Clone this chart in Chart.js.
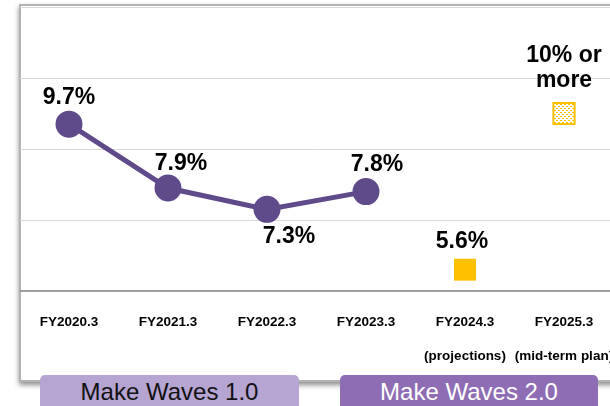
<!DOCTYPE html>
<html>
<head>
    <title>Operating margin</title>
    <script src="https://cdn.jsdelivr.net/npm/chart.js"></script>
    <style>
        html, body {
            margin: 0;
            padding: 0;
            width: 610px;
            height: 406px;
            overflow: hidden;
            background: #fff;
            font-family: Arial, "Liberation Sans", sans-serif;
        }
        #panel {
            position: absolute;
            left: 19px;
            top: 4px;
            width: 620px;
            height: 378px;
            box-sizing: border-box;
            border: 2px solid #b3b3b3;
            background: #fff;
            box-shadow: 0 3px 5px rgba(0, 0, 0, 0.45);
        }
        #wrap {
            position: absolute;
            left: 0;
            top: 0;
            width: 620px;
            height: 380px;
        }
        .phase {
            position: absolute;
            top: 375px;
            height: 40px;
            border-radius: 5px;
            font-size: 24px;
            line-height: 34px;
            text-align: center;
        }
        #phase1 { left: 40px; width: 259px; background: #b6a5d3; color: #111; }
        #phase2 { left: 340px; width: 258px; background: #8e6db4; color: #fff; }
    </style>
</head>
<body>
    <div id="panel"></div>
    <div id="wrap"><canvas id="figure" width="620" height="380"></canvas></div>
    <div class="phase" id="phase1">Make Waves 1.0</div>
    <div class="phase" id="phase2">Make Waves 2.0</div>

    <script>
        var categories = [
            ['FY2020.3'], ['FY2021.3'], ['FY2022.3'], ['FY2023.3'],
            ['FY2024.3', '(projections)'], ['FY2025.3', '(mid-term plan)']
        ];
        var results = [9.7, 7.9, 7.3, 7.8, null, null];
        var projection = [null, null, null, null, 5.6, null];
        var target = [null, null, null, null, null, 10];
        var targetText = ['10% or', 'more'];

        // dotted fill for the mid-term plan marker
        var tile = document.createElement('canvas');
        tile.width = 4;
        tile.height = 4;
        var tctx = tile.getContext('2d');
        tctx.fillStyle = '#ffffff';
        tctx.fillRect(0, 0, 4, 4);
        tctx.fillStyle = '#ffc000';
        tctx.fillRect(0, 0, 2, 1);
        tctx.fillRect(2, 2, 2, 1);
        var ctx = document.getElementById('figure').getContext('2d');
        var dotted = ctx.createPattern(tile, 'repeat');

        var valueLabels = {
            id: 'valueLabels',
            afterDatasetsDraw: function (chart, args, opts) {
                var c = chart.ctx;
                c.save();
                c.font = 'bold 23px Arial, "Liberation Sans", sans-serif';
                c.fillStyle = '#000';
                c.textAlign = 'center';
                c.textBaseline = 'middle';
                chart.data.datasets.forEach(function (ds, di) {
                    var meta = chart.getDatasetMeta(di);
                    ds.data.forEach(function (v, i) {
                        if (v === null) return;
                        var pt = meta.data[i];
                        var dx = opts.dx[i];
                        var dy = opts.dy[i];
                        if (di === 2) {
                            c.fillText(targetText[0], pt.x + dx, pt.y - 58);
                            c.fillText(targetText[1], pt.x + dx, pt.y - 33);
                        } else {
                            c.fillText(v.toFixed(1) + '%', pt.x + dx, pt.y + dy);
                        }
                    });
                });
                c.restore();
            }
        };

        new Chart(ctx, {
            type: 'line',
            data: {
                labels: categories,
                datasets: [{
                    data: results,
                    borderColor: '#5f4a8a',
                    backgroundColor: '#5f4a8a',
                    borderWidth: 5,
                    pointRadius: 11,
                    pointHoverRadius: 11,
                    spanGaps: false
                }, {
                    data: projection,
                    pointStyle: 'rect',
                    pointRadius: 15.5,
                    pointBorderWidth: 0,
                    borderColor: '#ffc000',
                    backgroundColor: '#ffc000',
                    showLine: false
                }, {
                    data: target,
                    pointStyle: 'rect',
                    pointRadius: 15,
                    pointBorderWidth: 2,
                    borderColor: '#ffc000',
                    backgroundColor: dotted,
                    showLine: false
                }]
            },
            options: {
                responsive: false,
                animation: false,
                layout: { autoPadding: false, padding: { left: 19.5, right: 6.5, top: 7, bottom: 9 } },
                plugins: {
                    legend: { display: false },
                    tooltip: { enabled: false },
                    valueLabels: {
                        dx: [0, 13, 22, 11, -3, 0],
                        dy: [-26, -24, 27, -27, -28, 0]
                    }
                },
                scales: {
                    x: {
                        offset: true,
                        grid: { display: false, drawTicks: false },
                        border: { display: true, color: '#a0a0a0', width: 2 },
                        ticks: {
                            padding: 14,
                            color: '#000',
                            maxRotation: 0,
                            autoSkip: false,
                            font: { family: 'Arial, "Liberation Sans", sans-serif', size: 13.5, weight: 'bold', lineHeight: '34px' }
                        },
                        afterFit: function (s) {
                            s.height = 80;
                            s.paddingLeft = 0;
                            s.paddingRight = 0;
                        }
                    },
                    y: {
                        min: 5,
                        max: 13,
                        ticks: { display: false, stepSize: 2 },
                        border: { display: false },
                        grid: { color: '#d9d9d9', lineWidth: 1, drawTicks: false },
                        afterFit: function (s) {
                            s.width = 0;
                            s.paddingTop = 0;
                            s.paddingBottom = 0;
                        }
                    }
                }
            },
            plugins: [valueLabels]
        });
    </script>
</body>
</html>
